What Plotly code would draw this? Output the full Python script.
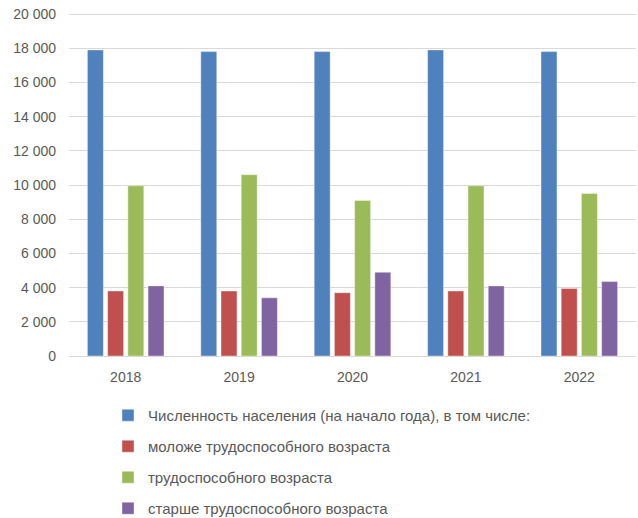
import plotly.graph_objects as go

years = ["2018", "2019", "2020", "2021", "2022"]
total = [17900, 17800, 17800, 17900, 17800]
young = [3800, 3800, 3700, 3800, 3950]
working = [9950, 10600, 9100, 9950, 9500]
old = [4100, 3400, 4900, 4100, 4350]

names = [
    "Численность населения (на начало года), в том числе:",
    "моложе трудоспособного возраста",
    "трудоспособного возраста",
    "старше трудоспособного возраста",
]
colors = ["#4F81BD", "#C0504D", "#9BBB59", "#8064A2"]
series = [total, young, working, old]

fig = go.Figure()
for i, (n, c, v) in enumerate(zip(names, colors, series)):
    fig.add_trace(go.Bar(
        x=years, y=v, name=n, legendgroup=f"g{i}",
        marker=dict(color=c, line=dict(color="rgba(255,255,255,0.5)", width=0.8)),
    ))

font = "Liberation Sans"
L, T, PH, PW = 69, 12, 344, 567
ytop = 20000 * PH / 342  # small headroom so the 20 000 gridline is drawn
fig.update_layout(
    width=638, height=518,
    margin=dict(l=L, r=638 - L - PW, t=T, b=518 - T - PH, autoexpand=False),
    paper_bgcolor="white", plot_bgcolor="white",
    barmode="group", bargap=0.287, bargroupgap=0.21,
    separators=", ",
    font=dict(family=font, size=14, color="#595959"),
    showlegend=True,
    legend=dict(
        orientation="v",
        x=(108 - L) / PW, xanchor="left",
        y=(T + PH - 399) / PH, yanchor="top",
        traceorder="grouped", tracegroupgap=8.5,
        font=dict(family=font, size=15, color="#595959"),
        itemclick=False,
    ),
    xaxis=dict(
        showgrid=False, showline=True, linecolor="#D9D9D9", linewidth=1,
        ticks="", ticklabelstandoff=8,
        tickfont=dict(size=14, color="#595959"),
    ),
    yaxis=dict(
        range=[0, ytop], tick0=0, dtick=2000, tickformat=",.0f",
        showgrid=True, gridcolor="#D9D9D9", gridwidth=1,
        zeroline=False, showline=False, ticks="",
        ticklabelstandoff=12,
        tickfont=dict(size=14, color="#595959"),
    ),
)

fig.write_html("out.html", config={"displayModeBar": False},
               post_script="document.body.style.margin='0';")
